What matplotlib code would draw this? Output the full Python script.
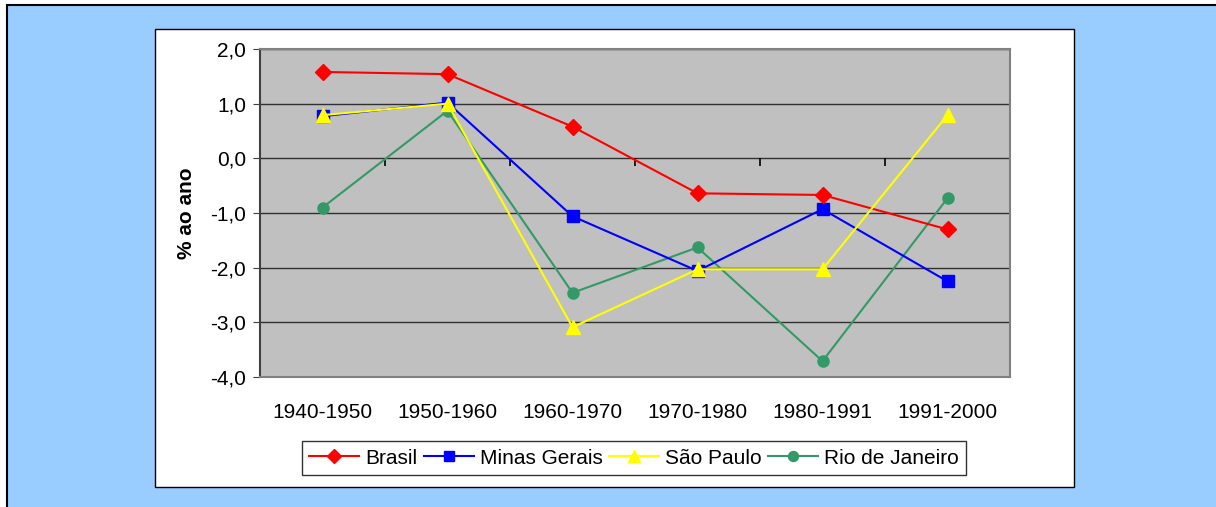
import matplotlib
matplotlib.use('Agg')
import matplotlib.pyplot as plt
import matplotlib.patches as mpatches
import numpy as np

periods = ["1940-1950", "1950-1960", "1960-1970", "1970-1980", "1980-1991", "1991-2000"]
brasil = [1.58, 1.54, 0.58, -0.64, -0.67, -1.30]
minas = [0.77, 1.02, -1.06, -2.06, -0.93, -2.25]
sao_paulo = [0.79, 1.00, -3.09, -2.03, -2.03, 0.79]
rio = [-0.90, 0.87, -2.46, -1.63, -3.71, -0.73]
yticks = [2, 1, 0, -1, -2, -3, -4]

plt.rcParams['font.family'] = ['Liberation Sans', 'DejaVu Sans']

W, H = 1216, 507
fig = plt.figure(figsize=(W / 100, H / 100), dpi=100)
fig.patch.set_facecolor('white')

# light blue outer frame and white chart area
fig.patches.append(mpatches.Rectangle((7 / W, -0.01), 1.01, 1 - 5 / H + 0.01, transform=fig.transFigure,
                                      facecolor='#99CCFF', edgecolor='black', lw=1.5, zorder=0))
fig.patches.append(mpatches.Rectangle((155 / W, (H - 487) / H), (1074 - 155) / W, (487 - 29) / H,
                                      transform=fig.transFigure, facecolor='white', edgecolor='black',
                                      lw=1, zorder=1))

ax = fig.add_axes([260 / W, (H - 377) / H, 750 / W, 328 / H])
ax.set_facecolor('#C0C0C0')
ax.set_zorder(2)

x = np.arange(len(periods)) + 0.5
ax.set_xlim(0, len(periods))
ax.set_ylim(-4, 2)

for v in yticks:
    ax.axhline(v, color='#303030', lw=1, zorder=1)

# category axis crossing at zero, tick marks between categories
bounds = np.arange(1, len(periods))
ax.plot(bounds, np.zeros_like(bounds), ls='none', marker=3, markersize=6,
        markeredgewidth=1.2, color='black', zorder=2)

lw = 1.5
ax.plot(x, brasil, color='#FF0000', marker='D', markersize=8, lw=lw, label='Brasil', zorder=5)
ax.plot(x, minas, color='#0000FF', marker='s', markersize=8, lw=lw, label='Minas Gerais', zorder=4)
ax.plot(x, sao_paulo, color='#FFFF00', marker='^', markersize=10, lw=lw, label='São Paulo', zorder=6)
ax.plot(x, rio, color='#339966', marker='o', markersize=8, lw=lw, label='Rio de Janeiro', zorder=3)

fs = 15
ax.set_yticks(yticks)
ax.set_yticklabels([f"{v:.1f}".replace('.', ',') for v in yticks], fontsize=fs)
ax.set_xticks(x)
ax.set_xticklabels(periods, fontsize=fs)
ax.tick_params(axis='x', length=0, pad=19)
ax.tick_params(axis='y', length=5, color='#404040', pad=5)

for s in ['top', 'right', 'bottom']:
    ax.spines[s].set_color('#808080')
    ax.spines[s].set_linewidth(1.5)
ax.spines['left'].set_color('#404040')
ax.spines['left'].set_linewidth(1.5)

ax.set_ylabel('% ao ano', fontsize=fs, fontweight='bold', labelpad=10)

leg = fig.legend(loc='center', bbox_to_anchor=(634 / W, (H - 458) / H), ncol=4, fontsize=fs,
                 frameon=True, fancybox=False, edgecolor='black', handlelength=2.4,
                 columnspacing=0.3, handletextpad=0.3, borderpad=0.35, markerscale=0.9)
leg.get_frame().set_linewidth(1)
leg.set_zorder(3)

fig.savefig('out.png', dpi=100)
